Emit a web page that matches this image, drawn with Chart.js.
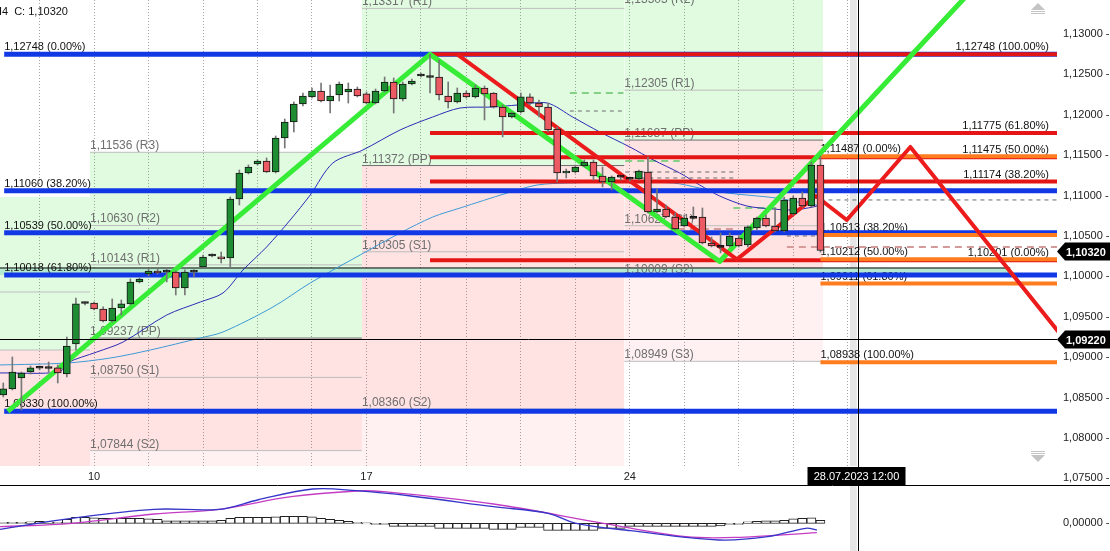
<!DOCTYPE html>
<html>
<head>
<meta charset="utf-8">
<title>EUR/USD H4</title>
<script src="https://cdn.jsdelivr.net/npm/chart.js@4.4.1/dist/chart.umd.min.js"></script>
<style>
    html, body { margin: 0; padding: 0; background: #ffffff; overflow: hidden; }
    canvas { display: block; }
</style>
</head>
<body>
<canvas id="main-chart" width="1110" height="485"></canvas>
<canvas id="macd-chart" width="1110" height="66"></canvas>
<script>
// x is counted in H4 bar slots, bar 0 = first bar on screen
var xMin = -0.36, xMax = 116.05;
var yMin = 1.074183, yMax = 1.134208;
var macdMin = -0.00277, macdMax = 0.00383;

var priceTicks = [1.075, 1.080, 1.085, 1.090, 1.095, 1.100, 1.105, 1.110, 1.115, 1.120, 1.125, 1.130];
var dayGrid = [4, 10, 16, 22, 28, 34, 40, 46, 51, 57, 63, 69, 75, 81, 87, 93];
var dayLabels = ['10', '17', '24'];
var dayLabelAt = [10, 40, 69];

// candles
var opens = [1.08532, 1.08607, 1.08743, 1.08817, 1.08863, 1.08860, 1.08867, 1.08792, 1.09164, 1.09665,
    1.09671, 1.09597, 1.09448, 1.09609, 1.09659, 1.09931, 1.10030, 1.10067, 1.10057, 1.10055,
    1.09857, 1.10057, 1.10117, 1.10253, 1.10240, 1.10228, 1.10958, 1.11280, 1.11391, 1.11428,
    1.11292, 1.11713, 1.11911, 1.12134, 1.12221, 1.12295, 1.12171, 1.12245, 1.12282, 1.12319,
    1.12258, 1.12146, 1.12295, 1.12406, 1.12196, 1.12381, 1.12480, 1.12470, 1.12468, 1.12233,
    1.12159, 1.12270, 1.12221, 1.12332, 1.12270, 1.12097, 1.11973, 1.12035, 1.12221, 1.12146,
    1.12097, 1.11824, 1.11280, 1.11292, 1.11367, 1.11416, 1.11243, 1.11168, 1.11232, 1.11206,
    1.11205, 1.11292, 1.10797, 1.10834, 1.10735, 1.10624, 1.10723, 1.10735, 1.10413, 1.10364,
    1.10376, 1.10475, 1.10389, 1.10599, 1.10723, 1.10624, 1.10562, 1.10773, 1.10970, 1.10871,
    1.11379];
var highs = [1.08681, 1.09003, 1.08817, 1.08891, 1.08891, 1.08941, 1.08904, 1.09250, 1.09733, 1.09683,
    1.09683, 1.09622, 1.09721, 1.09708, 1.09968, 1.09981, 1.10104, 1.10104, 1.10104, 1.10067,
    1.10080, 1.10080, 1.10265, 1.10278, 1.10302, 1.10983, 1.11317, 1.11379, 1.11441, 1.11466,
    1.11738, 1.11948, 1.12159, 1.12270, 1.12332, 1.12394, 1.12369, 1.12406, 1.12394, 1.12344,
    1.12282, 1.12319, 1.12468, 1.12456, 1.12406, 1.12443, 1.12517, 1.12748, 1.12678, 1.12406,
    1.12332, 1.12295, 1.12369, 1.12357, 1.12275, 1.12122, 1.12035, 1.12270, 1.12258, 1.12183,
    1.12146, 1.11849, 1.11329, 1.11379, 1.11441, 1.11441, 1.11354, 1.11243, 1.11243, 1.11230,
    1.11317, 1.11478, 1.11082, 1.10884, 1.10785, 1.10760, 1.10859, 1.10847, 1.10488, 1.10537,
    1.10537, 1.10512, 1.10624, 1.10735, 1.10760, 1.10847, 1.10983, 1.10995, 1.11045, 1.11416,
    1.11487];
var lows = [1.08508, 1.08594, 1.08347, 1.08792, 1.08842, 1.08817, 1.08681, 1.08755, 1.09089, 1.09646,
    1.09584, 1.09436, 1.09436, 1.09523, 1.09646, 1.09919, 1.10005, 1.10030, 1.09931, 1.09770,
    1.09770, 1.09993, 1.10104, 1.10240, 1.10166, 1.10117, 1.10884, 1.11268, 1.11379, 1.11285,
    1.11280, 1.11589, 1.11787, 1.12109, 1.12208, 1.12159, 1.12022, 1.12171, 1.12146, 1.12221,
    1.12134, 1.12134, 1.12282, 1.12022, 1.12171, 1.12369, 1.12468, 1.12270, 1.12183, 1.12084,
    1.12146, 1.12208, 1.12208, 1.11936, 1.12084, 1.11726, 1.11961, 1.12022, 1.12122, 1.11973,
    1.11787, 1.11168, 1.11218, 1.11280, 1.11354, 1.11193, 1.11107, 1.11069, 1.11193, 1.11181,
    1.11193, 1.10785, 1.10785, 1.10730, 1.10574, 1.10612, 1.10710, 1.10401, 1.10364, 1.10290,
    1.10364, 1.10364, 1.10364, 1.10574, 1.10612, 1.10550, 1.10550, 1.10760, 1.10859, 1.10859,
    1.10300];
var closes = [1.08607, 1.08817, 1.08805, 1.08867, 1.08870, 1.08867, 1.08805, 1.09139, 1.09659, 1.09671,
    1.09597, 1.09448, 1.09609, 1.09659, 1.09931, 1.09968, 1.10067, 1.10042, 1.10053, 1.09857,
    1.10055, 1.10053, 1.10240, 1.10259, 1.10216, 1.10958, 1.11280, 1.11354, 1.11428, 1.11292,
    1.11713, 1.11911, 1.12134, 1.12233, 1.12295, 1.12171, 1.12233, 1.12381, 1.12319, 1.12233,
    1.12146, 1.12295, 1.12406, 1.12196, 1.12381, 1.12418, 1.12486, 1.12462, 1.12245, 1.12159,
    1.12270, 1.12221, 1.12332, 1.12258, 1.12097, 1.11973, 1.12022, 1.12221, 1.12146, 1.12097,
    1.11812, 1.11280, 1.11305, 1.11354, 1.11416, 1.11243, 1.11168, 1.11230, 1.11228, 1.11202,
    1.11305, 1.10797, 1.10834, 1.10735, 1.10587, 1.10723, 1.10719, 1.10413, 1.10376, 1.10360,
    1.10500, 1.10376, 1.10612, 1.10723, 1.10624, 1.10562, 1.10946, 1.10970, 1.10871, 1.11379,
    1.10320];

// moving averages
var maFastAt = [-0.36, 6.2, 7.0, 10.3, 13.2, 18.0, 21.7, 24.2, 26.4, 29.0, 31.6, 33.8, 36.3, 39.6, 43.7, 47.3,
    50.3, 53.9, 56.6, 59.9, 62.7, 65.7, 69.0, 71.6, 74.5, 76.7, 78.9, 81.9, 84.8, 87.0, 89.2, 90.0];
var maFast = [1.08805, 1.08817, 1.08928, 1.09064, 1.09188, 1.09522, 1.09683, 1.09795, 1.10079, 1.10364, 1.10698,
    1.11007, 1.11404, 1.11564, 1.11812, 1.11973, 1.12084, 1.12096, 1.12121, 1.12146, 1.11973, 1.11787, 1.11602,
    1.11441, 1.11280, 1.11131, 1.10995, 1.10871, 1.10834, 1.10822, 1.10859, 1.10884];
var maSlowAt = [-0.36, 7.0, 11.8, 16.2, 21.7, 24.2, 29.7, 33.8, 39.3, 43.7, 47.3, 50.3, 55.5, 58.8, 62.1, 68.2,
    73.8, 76.7, 79.7, 85.2, 88.1, 89.6];
var maSlow = [1.08904, 1.08928, 1.08990, 1.09089, 1.09238, 1.09312, 1.09621, 1.09918, 1.10265, 1.10537, 1.10735,
    1.10846, 1.11032, 1.11131, 1.11156, 1.11168, 1.11156, 1.11094, 1.11032, 1.10970, 1.10908, 1.10884];

// weekly pivots
var weekStart = [-0.36, 9.55, 39.5, 68.4];
var weekEnd = [9.55, 39.5, 68.4, 90.3];
var pivots = [
    [1.09807, 1.09089],
    [1.11536, 1.10630, 1.10143, 1.09237, 1.08750, 1.07844],
    [1.13317, 1.11372, 1.10305, 1.08360],
    [1.13505, 1.12305, 1.11687, 1.10627, 1.10009, 1.08949]
];
var pivotNames = [
    [],
    ['R3', 'R2', 'R1', 'PP', 'S1', 'S2'],
    ['R1', 'PP', 'S1', 'S2'],
    ['R2', 'R1', 'PP', 'S1', 'S2', 'S3']
];
var zoneTop = [1.10983, 1.11536, 1.13421, 1.13421];
var zonePP = [1.09089, 1.09237, 1.11372, 1.11687];
var zoneMid = [1.07641, 1.07844, 1.08360, 1.10009];
var zoneLow = [1.07641, 1.07641, 1.07641, 1.08949];

// fibonacci retracements
var fibBlue = [1.12748, 1.11060, 1.10539, 1.10018, 1.08330];
var fibBlueNames = ['0.00%', '38.20%', '50.00%', '61.80%', '100.00%'];
var fibRed = [1.12748, 1.11775, 1.11475, 1.11174, 1.10201];
var fibRedNames = ['100.00%', '61.80%', '50.00%', '38.20%', '0.00%'];
var fibOrange = [1.11487, 1.10513, 1.10212, 1.09911, 1.08938];
var fibOrangeNames = ['0.00%', '38.20%', '50.00%', '61.80%', '100.00%'];
var fibBlueFrom = 0.1, fibRedFrom = 47, fibOrangeFrom = 90, fibRedLabelAt = 115.17;

// zone 1,10018 - 1,10104
var bandAt = [-0.36, 110.9];
var bandTop = 1.10104, bandBottom = 1.10018;

// drawn waves
var greenWaveAt = [0.5, 47, 78.9, 116.4];
var greenWave = [1.08330, 1.12748, 1.10185, 1.14720];
var redWaveAt = [50, 80.8, 89.5, 92.9, 99.9, 116.4];
var redWave = [1.12748, 1.10210, 1.10995, 1.10698, 1.11602, 1.09287];

// small dashed levels
var dashFrom = [62.4, 62.4, 68.5, 68.5, 68.5, 74.3, 80.4, 86.3, 90.0, 86.3];
var dashTo = [68.3, 68.3, 74.5, 80.4, 80.4, 80.4, 85.2, 90.0, 116.05, 116.05];
var dashLevel = [1.12270, 1.12047, 1.11428, 1.11292, 1.11218, 1.10587, 1.10846, 1.10500, 1.10946, 1.10364];
var dashKind = ['g', 'k', 'g', 'k', 'k', 'r', 'g', 'k', 'k', 'r'];

// crosshair
var crossAt = 94.13, crossPrice = 1.09220, lastPrice = 1.10320;
var crossDate = '28.07.2023 12:00';
var nowBand = [93.25, 94.0];

// MACD
var macdAt = [-0.36, 7.5, 16.6, 23.8, 28.0, 34.1, 38.9, 44.9, 54.0, 60.0, 63.1, 69.1, 78.8, 84.2, 88.4, 89.6];
var macdLine = [-0.00060, 0.00050, 0.00140, 0.00140, 0.00233, 0.00343, 0.00326, 0.00273, 0.00166, 0.00100,
    0.00000, -0.00074, -0.00167, -0.00134, -0.00050, -0.00067];
var signalAt = [-0.36, 7.5, 16.6, 23.8, 31.7, 38.9, 41.9, 54.0, 66.1, 75.2, 81.2, 89.6];
var signalLine = [-0.00034, 0.00000, 0.00093, 0.00140, 0.00266, 0.00323, 0.00316, 0.00193, 0.00000, -0.00134,
    -0.00140, -0.00094];
var macdHist = [0.00005, 0.00005, 0.0001, 0.00015, 0.0002, 0.00015, 0.0001, 0.0004, 0.0006, 0.0006,
    0.00055, 0.0005, 0.0005, 0.0005, 0.0005, 0.0005, 0.00045, 0.0004, 0.00025, 0.00025,
    0.00025, 0.00025, 0.00025, 0.00025, 0.0003, 0.0005, 0.0006, 0.0006, 0.0006, 0.0006,
    0.00065, 0.0007, 0.0007, 0.0007, 0.00065, 0.0005, 0.0004, 0.0003, 0.0002, 0.0001,
    0, -0.00005, -0.0001, -0.0003, -0.0003, -0.0003, -0.0003, -0.0003, -0.0005, -0.0005,
    -0.0005, -0.0005, -0.0005, -0.0005, -0.0006, -0.0006, -0.0006, -0.0004, -0.0004, -0.0004,
    -0.0007, -0.0007, -0.0007, -0.0007, -0.0007, -0.0007, -0.0005, -0.0005, -0.0005, -0.0003,
    -0.0003, -0.0003, -0.0003, -0.0003, -0.0003, -0.0003, -0.0003, -0.0003, -0.0003, -0.00025,
    -0.0001, -0.00005, 0.00015, 0.0002, 0.00025, 0.00025, 0.0003, 0.00045, 0.0005, 0.00055,
    0.0003];

var FONT = '"Liberation Sans", Arial, sans-serif';
Chart.defaults.font.family = FONT;

function fmt(v) {
    return v.toFixed(5).replace('.', ',');
}

function pts(xs, ys) {
    return xs.map(function (x, i) { return {x: x, y: ys[i]}; });
}

function hLine(x0, x1, v, color, width, dash, order) {
    return {
        type: 'line', data: [{x: x0, y: v}, {x: x1, y: v}],
        borderColor: color, borderWidth: width, borderDash: dash || [], borderCapStyle: 'butt',
        pointRadius: 0, fill: false, order: order
    };
}

function zone(x0, x1, top, bottom, color, order) {
    return {
        type: 'line', data: [{x: x0, y: top}, {x: x1, y: top}],
        borderColor: 'rgba(0,0,0,0)', borderWidth: 0, backgroundColor: color,
        pointRadius: 0, fill: {value: bottom}, order: order || 100
    };
}

// right axis keeps a fixed width and no extra padding above/below the plot
function fixAxis(s) {
    s.width = 53;
    s.paddingTop = 0;
    s.paddingBottom = 0;
}

var datasets = [];
var levelLabels = [];

for (var w = 0; w < weekStart.length; w++) {
    datasets.push(zone(weekStart[w], weekEnd[w], zoneTop[w], zonePP[w], 'rgba(0, 225, 0, 0.12)'));
    datasets.push(zone(weekStart[w], weekEnd[w], zonePP[w], zoneMid[w], 'rgba(255, 0, 0, 0.115)'));
    if (zoneLow[w] < zoneMid[w]) {
        datasets.push(zone(weekStart[w], weekEnd[w], zoneMid[w], zoneLow[w], 'rgba(255, 0, 0, 0.055)'));
    }
    pivots[w].forEach(function (v, k) {
        var name = pivotNames[w][k];
        datasets.push(hLine(weekStart[w], weekEnd[w], v, name === 'PP' ? '#6e6e6e' : '#bdbdbd', 1, null, 90));
        if (name) {
            levelLabels.push({x: weekStart[w], v: v, text: fmt(v) + ' (' + name + ')', color: '#6f6f6f', size: 12, align: 'left', off: 3});
        }
    });
}

datasets.push(zone(bandAt[0], bandAt[1], bandTop, bandBottom, '#b6ead0', 96));
datasets.push(hLine(bandAt[0], bandAt[1], bandTop, '#000000', 1, null, 95));

// labels get painted right after this one
datasets.push({type: 'line', data: [], order: 85, labelAnchor: true});

var dashStyle = {g: ['#86cf86', 2, [7, 5]], k: ['#6a6a6a', 1, [4, 4]], r: ['#d59a9a', 2, [7, 5]]};
dashLevel.forEach(function (v, k) {
    var st = dashStyle[dashKind[k]];
    datasets.push(hLine(dashFrom[k], dashTo[k], v, st[0], st[1], st[2], 80));
});

datasets.push({type: 'line', data: pts(maSlowAt, maSlow), borderColor: '#3d9ad6', borderWidth: 1,
    pointRadius: 0, tension: 0.3, fill: false, order: 61});
datasets.push({type: 'line', data: pts(maFastAt, maFast), borderColor: '#2b2bb5', borderWidth: 1,
    pointRadius: 0, tension: 0.3, fill: false, order: 60});

fibBlue.forEach(function (v, k) {
    datasets.push(hLine(fibBlueFrom, xMax, v, '#1238e6', 5, null, 55));
    levelLabels.push({x: fibBlueFrom, v: v, text: fmt(v) + ' (' + fibBlueNames[k] + ')', color: '#111', size: 11, align: 'left', off: 4});
});
fibRed.forEach(function (v, k) {
    datasets.push(hLine(fibRedFrom, xMax, v, '#e31515', 4, null, 54));
    levelLabels.push({x: fibRedLabelAt, v: v, text: fmt(v) + ' (' + fibRedNames[k] + ')', color: '#111', size: 11, align: 'right', off: 4});
});
fibOrange.forEach(function (v, k) {
    datasets.push(hLine(fibOrangeFrom, xMax, v, '#ff7d1e', 4, null, 53));
    levelLabels.push({x: fibOrangeFrom, v: v, text: fmt(v) + ' (' + fibOrangeNames[k] + ')', color: '#111', size: 11, align: 'left', off: 4});
});

datasets.push({type: 'line', data: pts(greenWaveAt, greenWave), borderColor: '#36ec36', borderWidth: 5,
    pointRadius: 0, tension: 0, fill: false, borderJoinStyle: 'round', order: 45});
datasets.push({type: 'line', data: pts(redWaveAt, redWave), borderColor: '#ec1c1c', borderWidth: 4,
    pointRadius: 0, tension: 0, fill: false, borderJoinStyle: 'round', order: 44});

var bodyColors = opens.map(function (o, i) {
    var d = closes[i] - o;
    if (Math.abs(d) < 0.00009) {
        return '#111111';
    }
    return d > 0 ? '#1e8c32' : '#ec5a64';
});

datasets.push({type: 'bar', data: lows.map(function (l, i) { return {x: i, y: [l, highs[i]]}; }),
    backgroundColor: '#777777', barThickness: 1, grouped: false, order: 3});
datasets.push({type: 'bar', data: opens.map(function (o, i) { return {x: i, y: [o, closes[i]]}; }),
    backgroundColor: bodyColors, borderColor: '#151515', borderWidth: 1, borderSkipped: false,
    barThickness: 7, minBarLength: 2, grouped: false, order: 2});

function drawLevelLabels(chart) {
    var ctx = chart.ctx;
    ctx.save();
    ctx.textBaseline = 'alphabetic';
    levelLabels.forEach(function (l) {
        ctx.font = l.size + 'px ' + FONT;
        ctx.fillStyle = l.color;
        ctx.textAlign = l.align;
        var y = Math.max(chart.scales.y.getPixelForValue(l.v) - l.off, 3);
        ctx.fillText(l.text, chart.scales.x.getPixelForValue(l.x), y);
    });
    ctx.restore();
}

function drawNowBand(chart) {
    var ctx = chart.ctx, a = chart.chartArea, x = chart.scales.x;
    var x0 = x.getPixelForValue(nowBand[0]), x1 = x.getPixelForValue(nowBand[1]);
    ctx.save();
    ctx.fillStyle = '#e6e6e6';
    ctx.fillRect(x0, a.top, x1 - x0, a.bottom - a.top);
    ctx.restore();
}

function drawTag(chart, v, text) {
    var ctx = chart.ctx;
    var y = Math.round(chart.scales.y.getPixelForValue(v)) + 0.5;
    var x0 = chart.chartArea.right;
    ctx.fillStyle = '#000';
    ctx.beginPath();
    ctx.moveTo(x0, y);
    ctx.lineTo(x0 + 8, y - 9);
    ctx.lineTo(chart.width, y - 9);
    ctx.lineTo(chart.width, y + 9);
    ctx.lineTo(x0 + 8, y + 9);
    ctx.closePath();
    ctx.fill();
    ctx.fillStyle = '#fff';
    ctx.font = 'bold 11px ' + FONT;
    ctx.textAlign = 'left';
    ctx.textBaseline = 'middle';
    ctx.fillText(text, x0 + 9, y + 1);
}

var mainDecor = {
    id: 'mainDecor',
    beforeDatasetsDraw: function (chart) {
        drawNowBand(chart);
    },
    afterDatasetDraw: function (chart, args) {
        if (chart.data.datasets[args.index].labelAnchor) {
            drawLevelLabels(chart);
        }
    },
    afterDraw: function (chart) {
        var ctx = chart.ctx, a = chart.chartArea, x = chart.scales.x, y = chart.scales.y;
        ctx.save();

        // date strip
        ctx.fillStyle = '#fff';
        ctx.fillRect(0, 466, a.right, a.bottom - 466);
        ctx.fillStyle = '#222';
        ctx.font = '11px ' + FONT;
        ctx.textAlign = 'center';
        ctx.textBaseline = 'middle';
        dayLabels.forEach(function (d, k) {
            ctx.fillText(d, x.getPixelForValue(dayLabelAt[k]), 477);
        });

        // crosshair
        var cx = Math.round(x.getPixelForValue(crossAt)) + 0.5;
        var cy = Math.round(y.getPixelForValue(crossPrice)) + 0.5;
        ctx.strokeStyle = '#000';
        ctx.lineWidth = 1;
        ctx.beginPath();
        ctx.moveTo(cx, 0);
        ctx.lineTo(cx, chart.height);
        ctx.moveTo(0, cy);
        ctx.lineTo(a.right, cy);
        ctx.stroke();

        drawTag(chart, lastPrice, fmt(lastPrice));
        drawTag(chart, crossPrice, fmt(crossPrice));

        ctx.fillStyle = '#000';
        ctx.fillRect(cx - 51, 467, 98, 18);
        ctx.fillStyle = '#fff';
        ctx.font = '11px ' + FONT;
        ctx.textAlign = 'center';
        ctx.textBaseline = 'middle';
        ctx.fillText(crossDate, cx - 2, 477);

        // header
        ctx.fillStyle = '#111';
        ctx.textAlign = 'left';
        ctx.textBaseline = 'alphabetic';
        ctx.font = '11px ' + FONT;
        ctx.fillText('H4  C: ' + fmt(lastPrice), -6, 15);

        // scroll arrows
        var ax = a.right - 19;
        ctx.fillStyle = '#c4c4c4';
        ctx.beginPath();
        ctx.moveTo(ax - 7, 10);
        ctx.lineTo(ax + 7, 10);
        ctx.lineTo(ax, 3);
        ctx.closePath();
        ctx.fill();
        ctx.fillRect(ax - 7, 11, 14, 1);
        ctx.fillRect(ax - 7, 13, 14, 1);
        ctx.fillRect(ax - 7, 451, 14, 1);
        ctx.fillRect(ax - 7, 453, 14, 1);
        ctx.beginPath();
        ctx.moveTo(ax - 7, 455);
        ctx.lineTo(ax + 7, 455);
        ctx.lineTo(ax, 462);
        ctx.closePath();
        ctx.fill();

        ctx.restore();
    }
};

var subDecor = {
    id: 'subDecor',
    beforeDatasetsDraw: function (chart) {
        drawNowBand(chart);
    },
    afterDraw: function (chart) {
        var ctx = chart.ctx;
        var cx = Math.round(chart.scales.x.getPixelForValue(crossAt)) + 0.5;
        ctx.save();
        ctx.strokeStyle = '#000';
        ctx.lineWidth = 1;
        ctx.beginPath();
        ctx.moveTo(0, 0.5);
        ctx.lineTo(chart.width, 0.5);
        ctx.moveTo(cx, 0);
        ctx.lineTo(cx, chart.height);
        ctx.stroke();
        ctx.restore();
    }
};

var mainChart = new Chart(document.getElementById('main-chart'), {
    type: 'bar',
    data: {datasets: datasets},
    options: {
        responsive: false,
        animation: false,
        events: [],
        layout: {padding: 0},
        plugins: {legend: {display: false}, tooltip: {enabled: false}},
        scales: {
            x: {
                type: 'linear', min: xMin, max: xMax, offset: false,
                afterBuildTicks: function (s) { s.ticks = dayGrid.map(function (v) { return {value: v}; }); },
                afterFit: function (s) { s.height = 0; s.paddingLeft = 0; s.paddingRight = 0; },
                ticks: {display: false},
                grid: {color: '#a4a4a4', drawTicks: false, offset: false},
                border: {display: false, dash: [1, 2]}
            },
            y: {
                position: 'right', min: yMin, max: yMax,
                afterBuildTicks: function (s) { s.ticks = priceTicks.map(function (v) { return {value: v}; }); },
                afterFit: fixAxis,
                ticks: {
                    callback: function (v) { return fmt(v) + ' -'; },
                    color: '#222', font: {size: 11}, padding: 6
                },
                grid: {display: false, drawTicks: false},
                border: {display: false}
            }
        }
    },
    plugins: [mainDecor]
});

var macdChart = new Chart(document.getElementById('macd-chart'), {
    type: 'bar',
    data: {
        datasets: [
            {type: 'line', data: pts(macdAt, macdLine), borderColor: '#3535c8', borderWidth: 1.3,
                pointRadius: 0, tension: 0.35, fill: false, order: 1},
            {type: 'line', data: pts(signalAt, signalLine), borderColor: '#c43cc4', borderWidth: 1.3,
                pointRadius: 0, tension: 0.35, fill: false, order: 2},
            {type: 'bar', data: macdHist.map(function (h, i) { return {x: i, y: h}; }),
                backgroundColor: '#ffffff', borderColor: '#222', borderWidth: 1, borderSkipped: false,
                barThickness: 9, minBarLength: 1, grouped: false, order: 3}
        ]
    },
    options: {
        responsive: false,
        animation: false,
        events: [],
        layout: {padding: 0},
        plugins: {legend: {display: false}, tooltip: {enabled: false}},
        scales: {
            x: {type: 'linear', min: xMin, max: xMax, offset: false, display: false},
            y: {
                position: 'right', min: macdMin, max: macdMax,
                afterBuildTicks: function (s) { s.ticks = [{value: 0}]; },
                afterFit: fixAxis,
                ticks: {
                    callback: function (v) { return fmt(v) + ' -'; },
                    color: '#222', font: {size: 11}, padding: 6
                },
                grid: {display: false, drawTicks: false},
                border: {display: false}
            }
        }
    },
    plugins: [subDecor]
});
</script>
</body>
</html>
